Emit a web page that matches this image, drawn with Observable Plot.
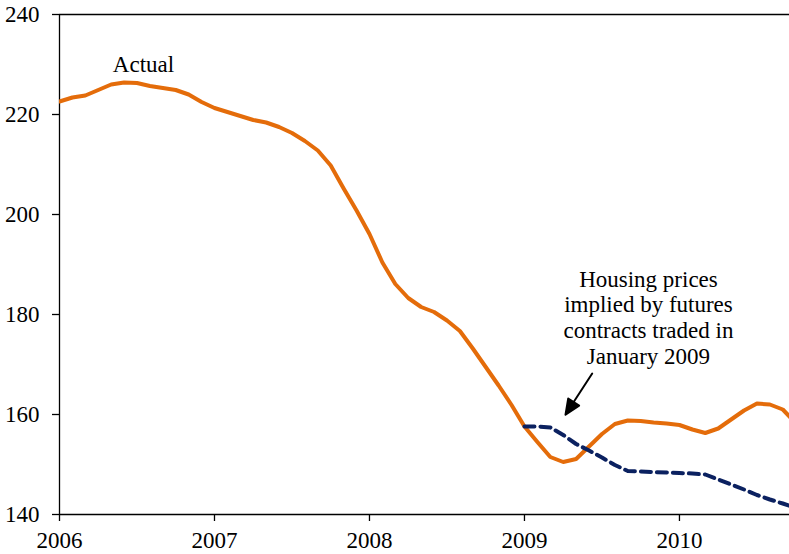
<!DOCTYPE html>
<html>
<head>
<meta charset="utf-8">
<script src="https://cdn.jsdelivr.net/npm/d3@7"></script>
<script src="https://cdn.jsdelivr.net/npm/@observablehq/plot@0.6"></script>
<style>
html, body { margin: 0; padding: 0; background: #fff; }
#chart svg { display: block; }
</style>
</head>
<body>
<div id="chart"></div>
<script>
// ---- data (monthly, starting January 2006) ----
const startYear = 2006;
const actualValues = [
  222.6, 223.4, 223.8, 224.9, 226.0, 226.4, 226.3, 225.7, 225.3, 224.9, 224.0, 222.5,
  221.3, 220.5, 219.7, 218.9, 218.4, 217.5, 216.3, 214.7, 212.8, 209.8, 205.2, 200.8,
  196.1, 190.4, 186.1, 183.3, 181.5, 180.5, 178.8, 176.7, 173.2, 169.5, 165.8, 161.9,
  157.6, 154.5, 151.5, 150.5, 151.1, 153.6, 156.1, 158.1, 158.8, 158.7, 158.4, 158.2,
  157.9, 157.0, 156.3, 157.2, 159.0, 160.8, 162.2, 162.0, 161.0, 158.3
];
const futuresStartMonth = 36; // January 2009
const futuresValues = [
  157.6, 157.6, 157.4, 155.9, 154.1, 152.8, 151.4, 149.9, 148.7, 148.6, 148.5, 148.4,
  148.3, 148.2, 148.0, 147.0, 146.0, 145.0, 143.9, 143.0, 142.2, 141.3
];
const xTicks = [2006, 2007, 2008, 2009, 2010];
const yTicks = [140, 160, 180, 200, 220, 240];
const xDomain = [2006, 2010.71];
const yDomain = [140, 240];
const labels = [
  {t: 2006.542, v: 230.1, text: "Actual"},
  {t: 2009.80, v: 179.5, text: "Housing prices\nimplied by futures\ncontracts traded in\nJanuary 2009"}
];
const arrowStart = [{t: 2009.437, v: 168.2}];

// ---- build ----
const actual = actualValues.map((v, i) => ({t: startYear + i / 12, v}));
const futures = futuresValues.map((v, i) => ({t: startYear + (futuresStartMonth + i) / 12, v}));

const arrowShape = {
  draw(context, l) {
    const h = 15, w = 6.5;
    context.moveTo(0, 0);
    context.lineTo(0, -l + h);
    context.moveTo(-w, h - l);
    context.lineTo(0, -l);
    context.lineTo(w, h - l);
    context.closePath();
  }
};

const font = "'Liberation Serif', 'Times New Roman', Times, serif";

const chart = Plot.plot({
  width: 789,
  height: 554,
  marginLeft: 59,
  marginRight: 0,
  marginTop: 14,
  marginBottom: 40,
  style: {fontFamily: font, fontSize: "23px", background: "white", color: "black", overflow: "visible"},
  x: {domain: xDomain},
  y: {domain: yDomain},
  marks: [
    Plot.ruleY([240], {stroke: "black", strokeWidth: 1.3}),
    Plot.ruleY([140], {stroke: "black", strokeWidth: 1.3}),
    Plot.ruleX([2006], {stroke: "black", strokeWidth: 1.3}),
    Plot.axisY({ticks: yTicks, tickSize: 7, tickPadding: 13, label: null, fontSize: 23, strokeWidth: 1.3}),
    Plot.axisX({ticks: xTicks, tickFormat: d => String(d), tickSize: 7, tickPadding: 10, label: null, fontSize: 23, strokeWidth: 1.3}),
    Plot.line(actual, {x: "t", y: "v", stroke: "#E46C0A", strokeWidth: 4, strokeLinejoin: "round", clip: true}),
    Plot.line(futures, {x: "t", y: "v", stroke: "#0B2160", strokeWidth: 4, strokeDasharray: "10,6", clip: true}),
    Plot.text(labels, {x: "t", y: "v", text: "text", fontSize: 23, lineHeight: 1.12, textAnchor: "middle", fill: "black"}),
    Plot.vector(arrowStart, {x: "t", y: "v", length: 49, rotate: 213, anchor: "start", shape: arrowShape, stroke: "black", fill: "black", strokeWidth: 2})
  ]
});
document.getElementById("chart").appendChild(chart);
</script>
</body>
</html>
